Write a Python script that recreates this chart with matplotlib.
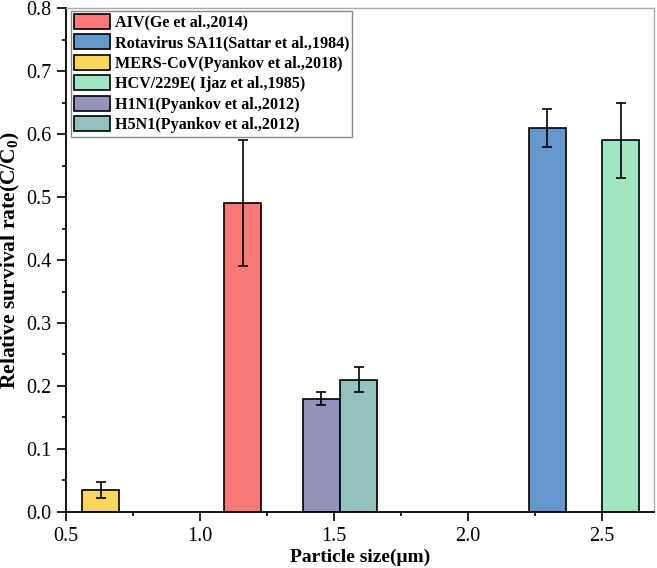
import matplotlib
matplotlib.use('Agg')
import matplotlib.pyplot as plt
from matplotlib.ticker import MultipleLocator

plt.rcParams['font.family'] = ['Liberation Serif', 'DejaVu Serif']
plt.rcParams['mathtext.fontset'] = 'custom'
plt.rcParams['mathtext.rm'] = 'Liberation Serif'
plt.rcParams['mathtext.bf'] = 'Liberation Serif:bold'

## Daten
labels = ['AIV(Ge et al.,2014)', 'Rotavirus SA11(Sattar et al.,1984)',
          'MERS-CoV(Pyankov et al.,2018)', 'HCV/229E( Ijaz et al.,1985)',
          'H1N1(Pyankov et al.,2012)', 'H5N1(Pyankov et al.,2012)']
size_um = [1.16, 2.296, 0.63, 2.57, 1.453, 1.592]
rate = [0.49, 0.61, 0.035, 0.59, 0.18, 0.21]
err = [0.10, 0.03, 0.013, 0.06, 0.01, 0.02]
colors = ['#FA7A7A', '#6498CD', '#FAD65C', '#A0E6C0', '#9393BE', '#93C2BE']

## Plotten
fig = plt.figure(figsize=(6.57, 5.68), dpi=100)
ax = fig.add_axes([0.1005, 0.0986, 0.8949, 0.8873])

for x, y, e, c, l in zip(size_um, rate, err, colors, labels):
    ax.bar(x, y, width=0.138, color=c, edgecolor='black', linewidth=1.2, label=l, zorder=2)
    ax.errorbar(x, y, yerr=e, fmt='none', ecolor='black', elinewidth=1.2,
                capsize=3.5, capthick=1.2, zorder=3)

ax.set_xlim(0.5, 2.694)
ax.set_ylim(0, 0.8)
ax.xaxis.set_major_locator(MultipleLocator(0.5))
ax.xaxis.set_minor_locator(MultipleLocator(0.25))
ax.yaxis.set_major_locator(MultipleLocator(0.1))
ax.yaxis.set_minor_locator(MultipleLocator(0.05))
ax.tick_params(which='both', direction='out', top=False, right=False, labelsize=14.5, width=1.2)
ax.tick_params(which='major', length=6.5, pad=4)
ax.tick_params(which='minor', length=3)

for s in ['left', 'bottom']:
    ax.spines[s].set_linewidth(1.3)
for s in ['top', 'right']:
    ax.spines[s].set_color('#AAAAAA')
    ax.spines[s].set_linewidth(1.0)

ax.set_xlabel('Particle size(μm)', fontsize=14, fontweight='bold', labelpad=2)
ax.set_ylabel(r'Relative survival rate(C/C$_\mathbf{0}$)', fontsize=15.5, fontweight='bold', labelpad=3)

leg = ax.legend(loc='upper left', bbox_to_anchor=(0.0085, 0.995), borderaxespad=0,
                prop={'weight': 'bold', 'size': 11.6}, fancybox=False, framealpha=1,
                edgecolor='#888888', handlelength=2.2, handleheight=1.05,
                handletextpad=0.3, labelspacing=0.22, borderpad=0.2)
leg.get_frame().set_linewidth(1.0)

fig.savefig('out.png', dpi=100)
